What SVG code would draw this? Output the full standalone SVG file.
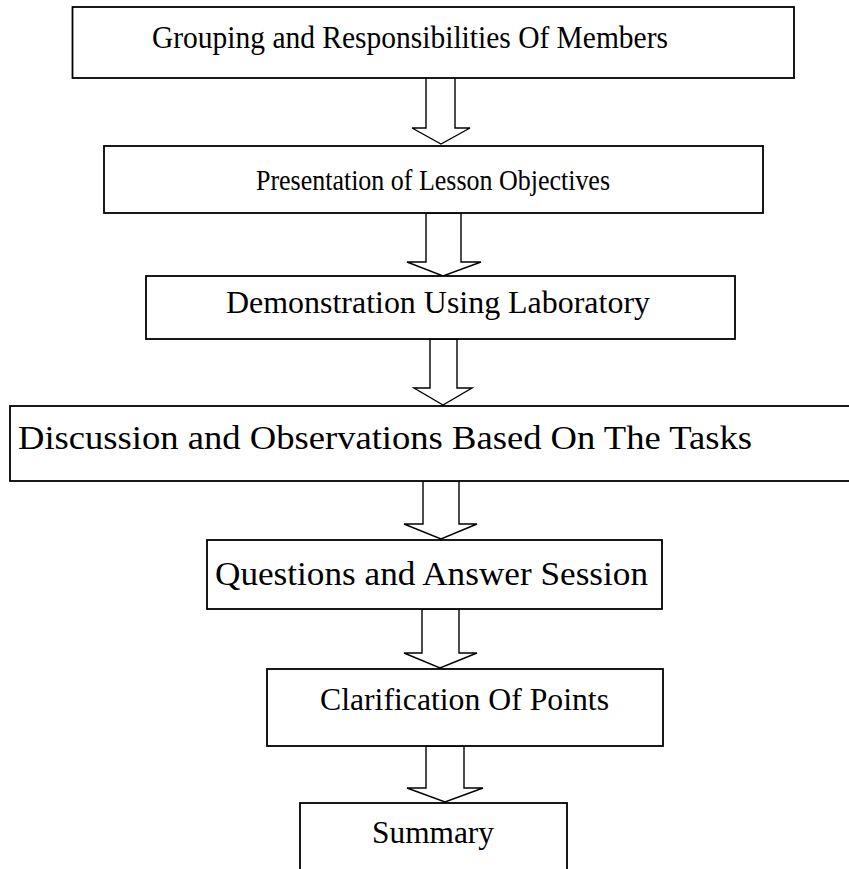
<svg xmlns="http://www.w3.org/2000/svg" width="849" height="869" viewBox="0 0 849 869">
<style>
.box{fill:#fff;stroke:#000;stroke-width:1.8}
.arr{fill:#fff;stroke:#000;stroke-width:1.4;stroke-linejoin:miter}
.t{font-family:"Liberation Serif","Times New Roman",serif;font-size:31px;fill:#000;text-anchor:middle}
</style>
<rect width="849" height="869" fill="#fff"/>
<g id="connectors">
<polygon class="arr" points="426,77 455,77 455,128 470,128 441,144 412,128 426,128"/>
<polygon class="arr" points="426,213 461,213 461,262 481,262 443,276 407,262 426,262"/>
<polygon class="arr" points="430,339 457,339 457,388 472,388 443,405 414,388 430,388"/>
<polygon class="arr" points="423,481 459,481 459,524 477,524 441,539 404,524 423,524"/>
<polygon class="arr" points="422,609 459,609 459,653 477,653 440,668 404,653 422,653"/>
<polygon class="arr" points="426,746 464,746 464,788 483,788 445,802 407,788 426,788"/>
</g>
<g id="n1"><rect class="box" x="72.5" y="7" width="721.5" height="71"/><text class="t" x="410" y="48" style="font-size:32px" textLength="516" lengthAdjust="spacingAndGlyphs">Grouping and Responsibilities Of Members</text></g>
<g id="n2"><rect class="box" x="104" y="146" width="659" height="67"/><text class="t" x="433" y="190" style="font-size:29px" textLength="354" lengthAdjust="spacingAndGlyphs">Presentation of Lesson Objectives</text></g>
<g id="n3"><rect class="box" x="146" y="276" width="589" height="63"/><text class="t" x="438" y="313" textLength="424" lengthAdjust="spacingAndGlyphs">Demonstration Using Laboratory</text></g>
<g id="n4"><rect class="box" x="10" y="406" width="850" height="75"/><text class="t" x="385" y="449" style="font-size:33px" textLength="734" lengthAdjust="spacingAndGlyphs">Discussion and Observations Based On The Tasks</text></g>
<g id="n5"><rect class="box" x="207" y="540" width="455" height="69"/><text class="t" x="431.5" y="585" style="font-size:33px" textLength="433" lengthAdjust="spacingAndGlyphs">Questions and Answer Session</text></g>
<g id="n6"><rect class="box" x="267" y="669" width="396" height="77"/><text class="t" x="464.5" y="710" textLength="289" lengthAdjust="spacingAndGlyphs">Clarification Of Points</text></g>
<g id="n7"><rect class="box" x="300" y="803" width="267" height="80"/><text class="t" x="433" y="843" textLength="122" lengthAdjust="spacingAndGlyphs">Summary</text></g>
</svg>
